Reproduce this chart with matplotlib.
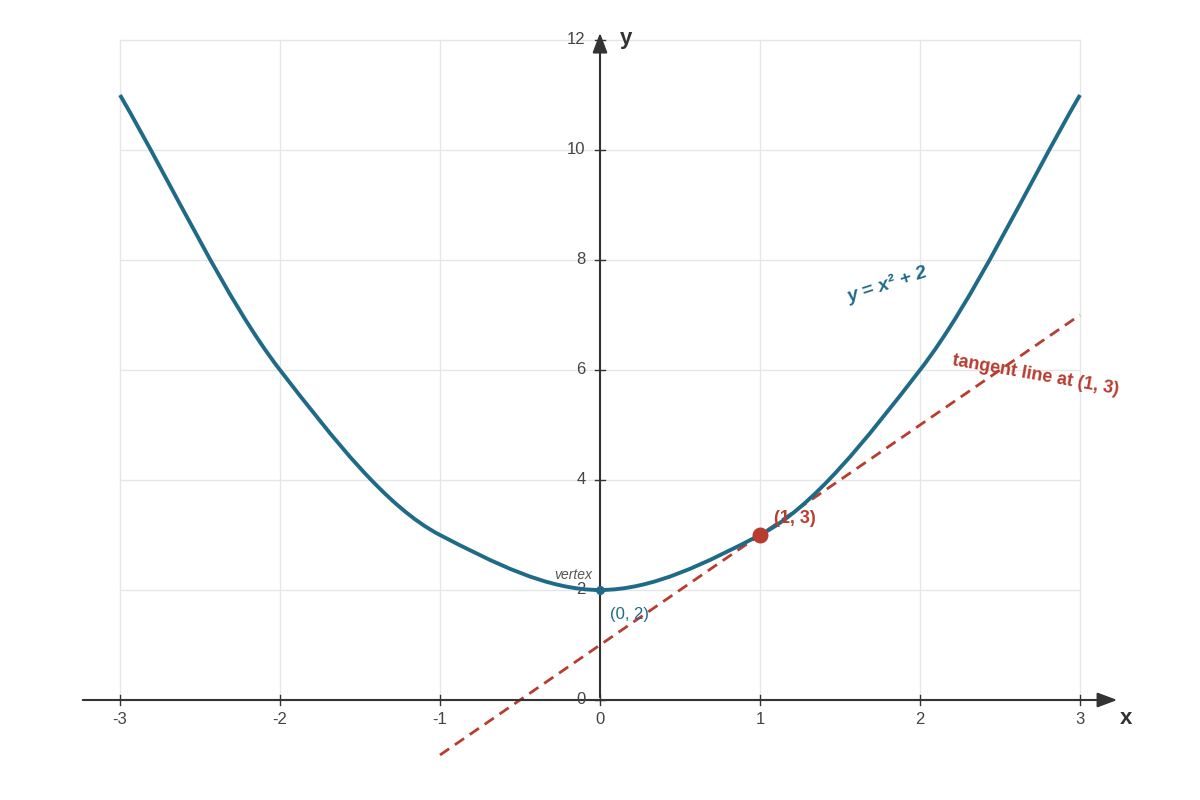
import numpy as np
import matplotlib
matplotlib.use("Agg")
import matplotlib.pyplot as plt
from matplotlib.path import Path
from matplotlib.patches import PathPatch

xs = [-3, -2, -1, 0, 1, 2, 3]
ys = [11, 6, 3, 2, 3, 6, 11]
x_ticks = [-3, -2, -1, 0, 1, 2, 3]
y_ticks = [0, 2, 4, 6, 8, 10, 12]
tangent_x = [-1, 3]
tangent_y = [-1, 7]
point = (1, 3)
vertex = (0, 2)

plt.rcParams['font.family'] = ['Liberation Sans', 'DejaVu Sans']
fig = plt.figure(figsize=(12, 8), dpi=100)
ax = fig.add_axes([0, 0, 1, 1])
ax.set_xlim(-3.75, 3.75)
ax.set_ylim(-100/55, 700/55)
ax.axis('off')

grid = '#e6e6e6'
for x in x_ticks:
    ax.plot([x, x], [0, 12], color=grid, lw=1, zorder=0)
for y in y_ticks:
    ax.plot([-3, 3], [y, y], color=grid, lw=1, zorder=0)

# axes
ax.annotate('', xy=(3.25, 0), xytext=(-3.25, 0),
            arrowprops=dict(arrowstyle='-|>,head_length=1.2,head_width=0.45', color='#333', lw=1.5))
ax.annotate('', xy=(0, 12.18), xytext=(0, 0),
            arrowprops=dict(arrowstyle='-|>,head_length=1.2,head_width=0.45', color='#333', lw=1.5))
ax.text(3.29, -0.33, 'x', fontsize=16, fontweight='bold', color='#333', ha='center', va='center')
ax.text(0.16, 12.03, 'y', fontsize=16, fontweight='bold', color='#333', ha='center', va='center')
for x in x_ticks:
    ax.plot([x, x], [-0.09, 0.09], color='#333', lw=1)
    ax.text(x, -0.36, str(x), ha='center', va='center', fontsize=12, color='#444')
for y in y_ticks:
    ax.plot([-0.03, 0.03], [y, y], color='#333', lw=1)
    ax.text(-0.09, y, str(y), ha='right', va='center', fontsize=12, color='#444')

# monotone cubic curve via bezier
xa = np.array(xs, float); ya = np.array(ys, float)
d = np.diff(ya) / np.diff(xa)
m = np.zeros_like(ya)
m[0], m[-1] = d[0], d[-1]
for i in range(1, len(xa)-1):
    if d[i-1]*d[i] <= 0:
        m[i] = 0
    else:
        m[i] = 2 / (1/d[i-1] + 1/d[i])
verts = [(xa[0], ya[0])]; codes = [Path.MOVETO]
for i in range(len(xa)-1):
    h = xa[i+1] - xa[i]
    verts += [(xa[i]+h/3, ya[i]+m[i]*h/3), (xa[i+1]-h/3, ya[i+1]-m[i+1]*h/3), (xa[i+1], ya[i+1])]
    codes += [Path.CURVE4]*3
blue = '#1f6b87'
ax.add_patch(PathPatch(Path(verts, codes), fill=False, edgecolor=blue, lw=2.8, zorder=3))

red = '#b83c30'
ax.plot(tangent_x, tangent_y, color=red, lw=2, ls=(0, (4, 2.5)), zorder=2)
ax.scatter([point[0]], [point[1]], s=110, color=red, zorder=5)
ax.scatter([vertex[0]], [vertex[1]], s=30, color=blue, zorder=5)

ax.text(1.09, 3.3, '(1, 3)', color=red, fontsize=13, fontweight='bold', ha='left', va='center')
ax.text(0.06, 1.55, '(0, 2)', color=blue, fontsize=12, ha='left', va='center')
ax.text(-0.05, 2.27, 'vertex', color='#555', fontsize=10, style='italic', ha='right', va='center')
ax.text(1.8, 7.55, 'y = x² + 2', color=blue, fontsize=14, fontweight='bold', style='italic',
        ha='center', va='center', rotation=18)
ax.text(2.72, 5.9, 'tangent line at (1, 3)', color=red, fontsize=13, fontweight='bold',
        ha='center', va='center', rotation=-10)

fig.savefig('out.png', dpi=100)
